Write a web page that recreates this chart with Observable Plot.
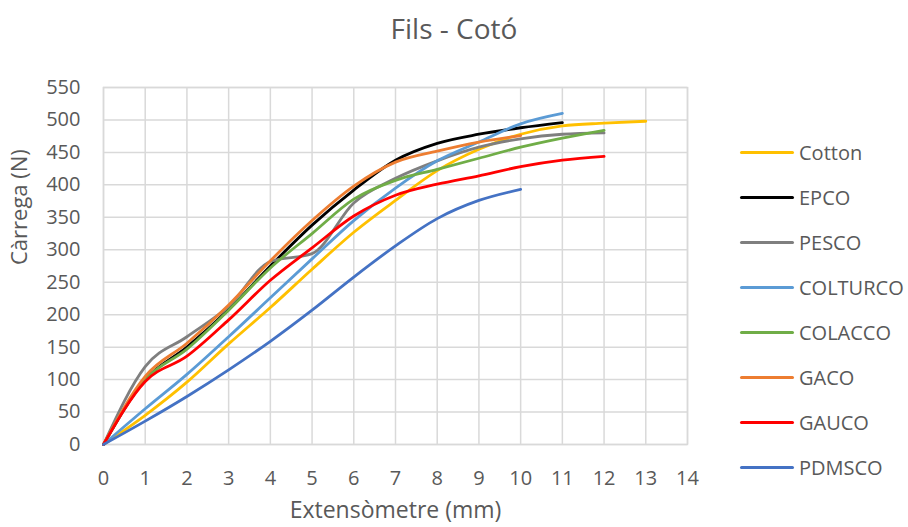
<!DOCTYPE html>
<html>
<head>
<meta charset="utf-8">
<script src="https://cdn.jsdelivr.net/npm/d3@7"></script>
<script src="https://cdn.jsdelivr.net/npm/@observablehq/plot@0.6"></script>
<style>
  html, body { margin: 0; padding: 0; background: #fff; }
  #wrap { position: relative; width: 908px; height: 527px; font-family: "Open Sans", sans-serif; color: #595959; }
  #title { position: absolute; left: 0px; width: 908px; top: 13.5px; text-align: center; font-size: 28px; line-height: 28px; }
  #legend { position: absolute; left: 740px; top: 129.5px; }
  .item { display: flex; align-items: center; height: 45px; font-size: 20px; }
  .sw { width: 54px; height: 3px; margin-right: 5px; border-radius: 1.5px; }
</style>
</head>
<body>
<div id="wrap">
  <div id="title">Fils - Cotó</div>
  <div id="legend"></div>
</div>
<script>
const extension = [0, 1, 2, 3, 4, 5, 6, 7, 8, 9, 10, 11, 12, 13];
const xTicks = [0, 1, 2, 3, 4, 5, 6, 7, 8, 9, 10, 11, 12, 13, 14];
const yTicks = [0, 50, 100, 150, 200, 250, 300, 350, 400, 450, 500, 550];

const names = ["Cotton", "EPCO", "PESCO", "COLTURCO", "COLACCO", "GACO", "GAUCO", "PDMSCO"];
const colors = ["#FFC000", "#000000", "#7F7F7F", "#5B9BD5", "#70AD47", "#ED7D31", "#FF0000", "#4472C4"];

const cotton   = [0, 45, 96, 155, 211, 270, 327, 376, 422, 455, 478, 491, 495, 498];
const epco     = [0, 100, 150, 208, 275, 338, 392, 438, 464, 478, 488, 496];
const pesco    = [0, 120, 166, 213, 282, 294, 372, 410, 437, 458, 471, 478, 480];
const colturco = [0, 55, 108, 166, 226, 286, 345, 395, 437, 466, 494, 510];
const colacco  = [0, 100, 147, 207, 272, 325, 378, 407, 424, 441, 458, 472, 484];
const gaco     = [0, 105, 156, 215, 283, 345, 398, 435, 452, 466, 476];
const gauco    = [0, 97, 136, 192, 253, 303, 352, 384, 401, 414, 428, 438, 444];
const pdmsco   = [0, 36, 74, 115, 159, 207, 258, 306, 348, 376, 393];

const seriesValues = [cotton, epco, pesco, colturco, colacco, gaco, gauco, pdmsco];
const rows = seriesValues.flatMap((vals, k) =>
  vals.map((v, i) => ({ ext: extension[i], load: v, name: names[k] })));

const chart = Plot.plot({
  width: 908,
  height: 527,
  marginLeft: 103,
  marginRight: 221,
  marginTop: 87,
  marginBottom: 83,
  style: { fontFamily: "Open Sans, sans-serif", fontSize: "20px", color: "#595959", background: "transparent" },
  x: { domain: [0, 14], label: null },
  y: { domain: [0, 550], label: null },
  color: { domain: names, range: colors },
  marks: [
    Plot.gridX(xTicks, { stroke: "#d9d9d9", strokeOpacity: 1, strokeWidth: 1.5 }),
    Plot.gridY(yTicks, { stroke: "#d9d9d9", strokeOpacity: 1, strokeWidth: 1.5 }),
    Plot.frame({ stroke: "#d9d9d9", strokeWidth: 1.5 }),
    Plot.axisX(xTicks, { tickSize: 0, tickPadding: 26, fontSize: 20, fill: "#595959" }),
    Plot.axisY(yTicks, { tickSize: 0, tickPadding: 23, fontSize: 20, fill: "#595959" }),
    Plot.line(rows, { x: "ext", y: "load", z: "name", stroke: "name", strokeWidth: 2.8, curve: "monotone-x" }),
    Plot.text(["Extensòmetre (mm)"], { frameAnchor: "bottom", lineAnchor: "middle", dy: 66, fontSize: 23, fill: "#595959" }),
    Plot.text(["Càrrega (N)"], { frameAnchor: "left", lineAnchor: "middle", dx: -84, dy: -1, rotate: -90, fontSize: 22, fill: "#595959" })
  ]
});
chart.style.position = "absolute";
chart.style.left = "0px";
chart.style.top = "0px";
document.getElementById("wrap").prepend(chart);

const legend = document.getElementById("legend");
names.forEach((n, i) => {
  const it = document.createElement("div");
  it.className = "item";
  const sw = document.createElement("div");
  sw.className = "sw";
  sw.style.background = colors[i];
  const t = document.createElement("span");
  t.textContent = n;
  it.appendChild(sw);
  it.appendChild(t);
  legend.appendChild(it);
});
</script>
</body>
</html>
